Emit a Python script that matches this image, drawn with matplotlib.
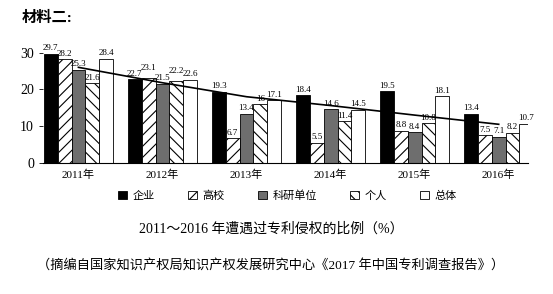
import numpy as np
import matplotlib
matplotlib.use("Agg")
import matplotlib.pyplot as plt
from matplotlib.patches import Patch

plt.rcParams['font.family'] = ['Liberation Serif', 'Noto Sans CJK SC']
plt.rcParams['hatch.linewidth'] = 0.8

# data
years = ['2011年', '2012年', '2013年', '2014年', '2015年', '2016年']
series = ['企业', '高校', '科研单位', '个人', '总体']
qiye = [29.7, 22.7, 19.3, 18.4, 19.5, 13.4]
gaoxiao = [28.2, 23.1, 6.7, 5.5, 8.8, 7.5]
keyan = [25.3, 21.5, 13.4, 14.6, 8.4, 7.1]
geren = [21.6, 22.2, 16, 11.4, 10.8, 8.2]
zongti = [28.4, 22.6, 17.1, 14.5, 18.1, 10.7]
trend = [26.0, 21.8, 18.0, 15.6, 13.0, 10.5]

values = [qiye, gaoxiao, keyan, geren, zongti]
faces = ['black', 'white', '#6e6e6e', 'white', 'white']
hatches = [None, '///', None, '\\\\\\', None]
# small vertical nudges so neighbouring labels in 2012 don't collide
nudge = {(1, 1): 1.2, (1, 3): 1.2}

fig = plt.figure(figsize=(5.53, 2.94), dpi=100)
ax = fig.add_axes([0.078, 0.446, 0.877, 0.40])

x = np.arange(len(years))
w = 0.165
for i, vals in enumerate(values):
    pos = x + (i - 2) * w
    ax.bar(pos, vals, w, color=faces[i], edgecolor='black', linewidth=0.6,
           hatch=hatches[i])
    for j, (p, v) in enumerate(zip(pos, vals)):
        dy = nudge.get((j, i), 0)
        ax.text(p, v + 0.4 + dy, f'{v:g}', ha='center', va='bottom', fontsize=6.5)

ax.plot(x, trend, color='black', lw=1.2)

ax.set_xlim(-0.42, 5.35)
ax.set_ylim(0, 32)
ax.set_yticks([0, 10, 20, 30])
ax.tick_params(axis='y', labelsize=10, length=3, width=0.6)
ax.set_xticks(x)
ax.set_xticklabels(years, fontsize=8)
ax.tick_params(axis='x', length=0, pad=5)
for s in ['top', 'right', 'left']:
    ax.spines[s].set_visible(False)
ax.spines['bottom'].set_linewidth(0.8)

handles = [Patch(facecolor=faces[i], edgecolor='black', hatch=hatches[i], lw=0.6)
           for i in range(5)]
fig.legend(handles, series, loc='center', bbox_to_anchor=(0.52, 0.335),
           ncol=5, frameon=False, fontsize=8, handlelength=0.8, handleheight=0.8,
           columnspacing=3.0, handletextpad=0.5)

fig.text(0.04, 0.925, '材料二:', fontsize=11, fontweight='bold')
fig.text(0.49, 0.21, '2011～2016 年遭遇过专利侵权的比例（%）', ha='center', fontsize=10)
fig.text(0.49, 0.085, '（摘编自国家知识产权局知识产权发展研究中心《2017 年中国专利调查报告》）',
         ha='center', fontsize=9.5)

fig.savefig('out.png', dpi=100)
